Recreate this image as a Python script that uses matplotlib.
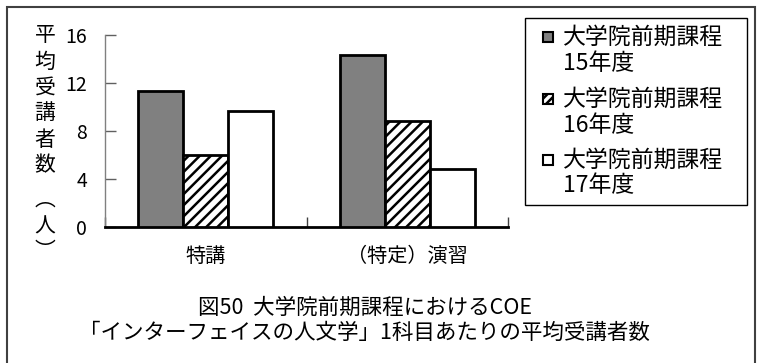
import matplotlib
matplotlib.use("Agg")
import matplotlib.pyplot as plt
from matplotlib.patches import Rectangle
import numpy as np

plt.rcParams['font.family'] = ['Noto Sans CJK JP', 'DejaVu Sans']
plt.rcParams['hatch.linewidth'] = 1.8

categories = ["特講", "（特定）演習"]
series_names = ["大学院前期課程\n15年度", "大学院前期課程\n16年度", "大学院前期課程\n17年度"]
values_15 = [11.3, 14.3]
values_16 = [6.0, 8.8]
values_17 = [9.7, 4.8]
yticks = [0, 4, 8, 12, 16]
ylabel_chars = ["平", "均", "受", "講", "者", "数", "︵", "人", "︶"]
title_lines = ["図50  大学院前期課程におけるCOE", "「インターフェイスの人文学」1科目あたりの平均受講者数"]

W, H = 758, 363
fig = plt.figure(figsize=(W / 100, H / 100), dpi=100)


def fx(px):
    return px / W


def fy(py):
    return 1 - py / H


# outer frame
fig.patches.append(Rectangle((fx(7), fy(420)), fx(755) - fx(7), fy(7) - fy(420),
                             transform=fig.transFigure, fill=False,
                             edgecolor="#404040", linewidth=1.5))

ax = fig.add_axes([fx(105), fy(227), fx(508) - fx(105), fy(35) - fy(227)])
ax.set_facecolor("none")

x = np.arange(len(categories))
w = 0.2233
styles = [dict(facecolor="#808080", hatch=None),
          dict(facecolor="white", hatch="///"),
          dict(facecolor="white", hatch=None)]
for i, (vals, st) in enumerate(zip([values_15, values_16, values_17], styles)):
    ax.bar(x + (i - 1) * w, vals, width=w, facecolor=st["facecolor"],
           edgecolor="black", linewidth=2, hatch=st["hatch"], zorder=3)

ax.set_xlim(-0.5, len(categories) - 0.5)
ax.set_ylim(0, 16)
ax.set_yticks(yticks)
ax.set_yticklabels([str(v) for v in yticks], fontsize=14)
ax.tick_params(axis="y", direction="in", length=8, width=1, color="#606060", pad=13)

ax.set_xticks([-0.5, 0.5, 1.5])
ax.set_xticklabels([])
ax.set_xticks(x, minor=True)
ax.set_xticklabels(categories, minor=True, fontsize=14.5)
ax.tick_params(axis="x", which="major", direction="in", length=7, width=1, color="#404040")
ax.tick_params(axis="x", which="minor", length=0, pad=14)

for s in ["top", "right"]:
    ax.spines[s].set_visible(False)
ax.spines["left"].set_color("#808080")
ax.spines["left"].set_linewidth(1)
ax.spines["bottom"].set_color("black")
ax.spines["bottom"].set_linewidth(2)

# vertical y label
ypos = [35, 62, 88, 113, 140, 165, 200, 227, 251]
for ch, yp in zip(ylabel_chars, ypos):
    fig.text(fx(45), fy(yp), ch, ha="center", va="center", fontsize=15)

# legend (manual, handle aligned with first line)
fig.patches.append(Rectangle((fx(525), fy(205)), fx(747) - fx(525), fy(18) - fy(205),
                             transform=fig.transFigure, facecolor="white",
                             edgecolor="black", linewidth=1))
leg_y = [37, 99, 160]
for name, st, ly in zip(series_names, styles, leg_y):
    fig.patches.append(Rectangle((fx(543), fy(ly + 5)), fx(553) - fx(543), fy(ly - 5) - fy(ly + 5),
                                 transform=fig.transFigure, facecolor=st["facecolor"],
                                 hatch=("////" if st["hatch"] else None),
                                 edgecolor="black", linewidth=1.5))
    l1, l2 = name.split("\n")
    fig.text(fx(563), fy(ly), l1, ha="left", va="center", fontsize=16.5)
    fig.text(fx(563), fy(ly + 26), l2, ha="left", va="center", fontsize=16.5)

fig.text(fx(365), fy(308), title_lines[0], ha="center", va="center", fontsize=15.5)
fig.text(fx(364), fy(333), title_lines[1], ha="center", va="center", fontsize=15.5)

fig.savefig("out.png", dpi=100)
